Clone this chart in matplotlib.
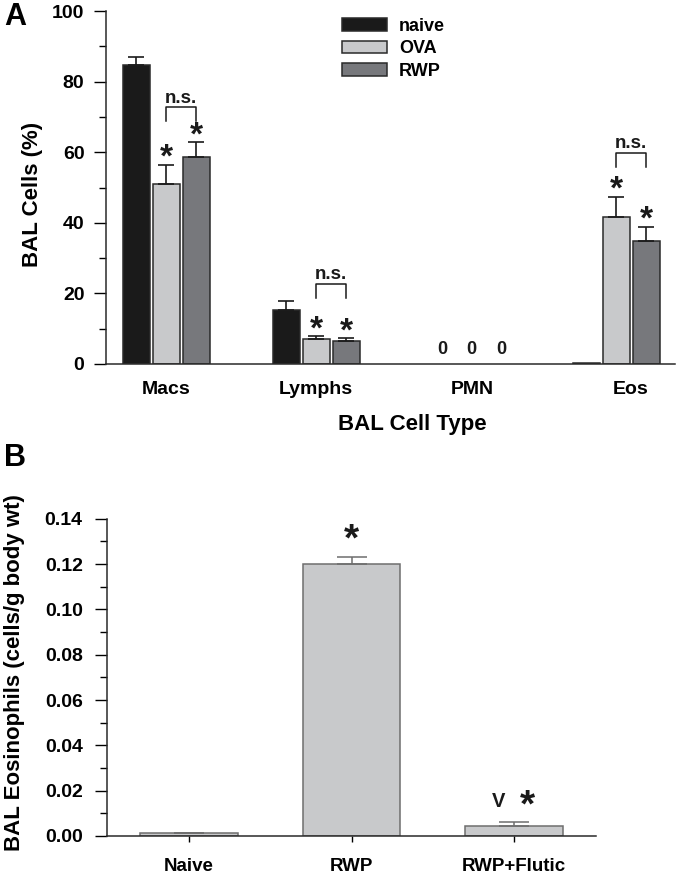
import numpy as np
import matplotlib
matplotlib.use("Agg")
import matplotlib.pyplot as plt
from matplotlib.ticker import MultipleLocator, FormatStrFormatter

plt.rcParams['font.family'] = ['Liberation Sans', 'DejaVu Sans']
plt.rcParams['font.weight'] = 'bold'

# Panel A data
cell_types = ['Macs', 'Lymphs', 'PMN', 'Eos']
groups = ['naive', 'OVA', 'RWP']
naive_mean = [84.6, 15.3, 0.0, 0.3]
naive_sem = [2.3, 2.5, 0.0, 0.0]
ova_mean = [50.9, 7.0, 0.0, 41.7]
ova_sem = [5.6, 1.0, 0.0, 5.7]
rwp_mean = [58.5, 6.4, 0.0, 34.8]
rwp_sem = [4.3, 0.9, 0.0, 4.1]
star_a = {'OVA': [0, 1, 3], 'RWP': [0, 1, 3]}
ns_height = [72.7, 22.7, None, 59.8]

# Panel B data
treatments = ['Naive', 'RWP', 'RWP+Flutic']
eos_mean = [0.0012, 0.1201, 0.0046]
eos_sem = [0.0002, 0.0032, 0.0017]

colors = ['#1a1a1a', '#c8c9cb', '#77787c']

fig = plt.figure(figsize=(6.77, 8.74), dpi=100)
W, H = 677, 874

def px_axes(l, t, r, b):
    return fig.add_axes([l / W, 1 - b / H, (r - l) / W, (b - t) / H])

# ---------------- Panel A ----------------
ax = px_axes(106, 11, 675, 364)
group_x = np.array([0, 1, 2.037, 3])
label_x = [0, 1, 2.04, 3.1]
offs = [-0.197, 0.0, 0.2]
bw = 0.18
means = [naive_mean, ova_mean, rwp_mean]
sems = [naive_sem, ova_sem, rwp_sem]
for i, g in enumerate(groups):
    xs = group_x + offs[i]
    m = np.array(means[i])
    s = np.array(sems[i])
    show = m > 0
    ax.bar(xs[show], m[show], width=bw, color=colors[i], edgecolor='#2a2a2a',
           linewidth=1.1, label=g, zorder=2)
    e = show & (s > 0)
    ax.errorbar(xs[e], m[e], yerr=[np.zeros(e.sum()), s[e]],
                fmt='none', ecolor='#1a1a1a', elinewidth=1.2, capsize=5.5,
                capthick=1.2, zorder=3)
    if g in star_a:
        for k in star_a[g]:
            ax.annotate('*', (xs[k], m[k] + s[k]), xytext=(0, -1.7),
                        textcoords='offset points', ha='center', va='baseline',
                        fontsize=24, fontweight='bold', color='#1a1a1a')
    # zero labels for PMN
    for k in range(len(cell_types)):
        if m[k] == 0:
            ax.text(xs[k], 4.0, '0', ha='center', va='center', fontsize=13,
                    fontweight='bold', color='#1a1a1a')

for k, h in enumerate(ns_height):
    if h is None:
        continue
    x1 = group_x[k] + offs[1]
    x2 = group_x[k] + offs[2]
    ax.plot([x1, x1, x2, x2], [h - 4, h, h, h - 4], color='#1a1a1a', lw=1.1)
    ax.annotate('n.s.', ((x1 + x2) / 2, h), xytext=(0, 3.5),
                textcoords='offset points', ha='center', va='baseline',
                fontsize=13.5, fontweight='bold', color='#1a1a1a')

ax.set_xlim(-0.4, 3.393)
ax.set_ylim(0, 100)
ax.set_xticks(label_x)
ax.set_xticklabels(cell_types, fontsize=14, fontweight='bold')
ax.tick_params(axis='x', length=0, pad=12)
ax.yaxis.set_major_locator(MultipleLocator(20))
ax.yaxis.set_minor_locator(MultipleLocator(10))
ax.tick_params(axis='y', which='major', length=8.5, width=1.0, labelsize=14,
               pad=7)
ax.tick_params(axis='y', which='minor', length=5, width=1.0)
for t in ax.get_yticklabels():
    t.set_fontweight('bold')
ax.spines['top'].set_visible(False)
ax.spines['right'].set_visible(False)
for sp in ['left', 'bottom']:
    ax.spines[sp].set_linewidth(1.1)
    ax.spines[sp].set_color('#2a2a2a')
ax.set_ylabel('BAL Cells (%)', fontsize=16, fontweight='bold')
ax.yaxis.set_label_coords(-0.111, 0.479)
ax.set_xlabel('BAL Cell Type', fontsize=16, fontweight='bold')
ax.xaxis.set_label_coords(0.538, -0.142)
ax.legend(loc='upper left', bbox_to_anchor=(342 / W, 1 - 18 / H),
          bbox_transform=fig.transFigure, frameon=False, fontsize=13,
          handlelength=2.5, handleheight=0.7, handletextpad=0.65,
          labelspacing=0.3, borderpad=0, borderaxespad=0)

fig.text(15 / W, 1 - 17 / H, 'A', fontsize=22, fontweight='bold',
         ha='center', va='center')

# ---------------- Panel B ----------------
bx = px_axes(107, 518.7, 596, 836)
xb = np.arange(len(treatments))
bx.bar(xb, eos_mean, width=0.6, color='#c8c9cb', edgecolor='#6e6e6e',
       linewidth=1.1, zorder=2)
bx.errorbar(xb, eos_mean, yerr=[np.zeros(len(xb)), eos_sem], fmt='none',
            ecolor='#6e6e6e', elinewidth=1.1, capsize=10.5, capthick=1.1,
            zorder=3)
bx.annotate('*', (xb[1], eos_mean[1] + eos_sem[1]), xytext=(0, 4.3),
            textcoords='offset points', ha='center', va='baseline',
            fontsize=28, fontweight='bold', color='#1a1a1a')
bx.annotate('*', (xb[2], eos_mean[2] + eos_sem[2]), xytext=(9.4, 3.6),
            textcoords='offset points', ha='center', va='baseline',
            fontsize=28, fontweight='bold', color='#1a1a1a')
bx.annotate('V', (xb[2], eos_mean[2] + eos_sem[2]), xytext=(-10.8, 10.6),
            textcoords='offset points', ha='center', va='baseline',
            fontsize=14.5, fontweight='bold', color='#1a1a1a')

bx.set_xlim(-0.505, 2.505)
bx.set_ylim(0, 0.14)
bx.set_xticks(xb)
bx.set_xticklabels(treatments, fontsize=13.5, fontweight='bold')
bx.tick_params(axis='x', length=4, width=1.0, pad=12)
bx.yaxis.set_major_locator(MultipleLocator(0.02))
bx.yaxis.set_minor_locator(MultipleLocator(0.01))
bx.yaxis.set_major_formatter(FormatStrFormatter('%.2f'))
bx.tick_params(axis='y', which='major', length=8.5, width=1.0, labelsize=14,
               pad=9)
bx.tick_params(axis='y', which='minor', length=5, width=1.0)
for t in bx.get_yticklabels():
    t.set_fontweight('bold')
bx.spines['top'].set_visible(False)
bx.spines['right'].set_visible(False)
for sp in ['left', 'bottom']:
    bx.spines[sp].set_linewidth(1.1)
    bx.spines[sp].set_color('#2a2a2a')
bx.set_ylabel('BAL Eosinophils (cells/g body wt)', fontsize=16,
              fontweight='bold')
bx.yaxis.set_label_coords(-0.168, 0.514)

fig.text(15 / W, 1 - 458 / H, 'B', fontsize=22, fontweight='bold',
         ha='center', va='center')

fig.savefig('out.png', dpi=100)
